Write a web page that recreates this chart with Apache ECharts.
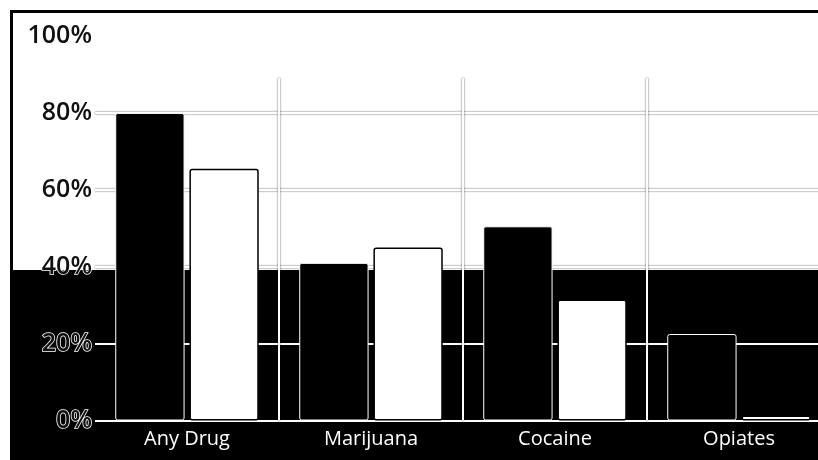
<!DOCTYPE html>
<html>
<head>
<meta charset="utf-8">
<script src="https://cdn.jsdelivr.net/npm/echarts@6/dist/echarts.min.js"></script>
<style>
  html, body { margin: 0; background: #fff; }
  #chart { width: 818px; height: 460px; }
</style>
</head>
<body>
<div id="chart"></div>
<script>
// values
var categories = ['Any Drug', 'Marijuana', 'Cocaine', 'Opiates'];
var blackValues = [80, 41, 50.5, 22.5];
var whiteValues = [65.5, 45, 31.5, 1.3];
var yTicks = [0, 20, 40, 60, 80, 100];

var chart = echarts.init(document.getElementById('chart'), null, { renderer: 'canvas' });

var gridLine = {
  color: '#fff',
  width: 2,
  shadowColor: 'rgba(0,0,0,0.75)',
  shadowBlur: 2
};

var option = {
  backgroundColor: '#fff',
  animation: false,
  graphic: {
    elements: [
      // dark lower half of the scanned page
      { type: 'rect', z: -10, silent: true,
        shape: { x: 10, y: 270, width: 808, height: 190 },
        style: { fill: '#000' } },
      // frame
      { type: 'rect', z: 100, silent: true,
        shape: { x: 11.5, y: 11.5, width: 900, height: 600 },
        style: { fill: 'none', stroke: '#000', lineWidth: 3 } }
    ]
  },
  grid: [
    { left: 95, right: -13, top: 36, bottom: 39.5, outerBoundsMode: 'none' },
    { left: 95, right: -13, top: 78, bottom: 39.5, outerBoundsMode: 'none' }
  ],
  xAxis: [{
    type: 'category',
    gridIndex: 0,
    data: categories,
    axisLine: { show: false },
    axisTick: { show: false },
    splitLine: { show: false },
    axisLabel: {
      color: '#fff',
      fontFamily: 'Open Sans',
      fontSize: 20,
      margin: 9
    }
  }, {
    type: 'category',
    gridIndex: 1,
    data: categories,
    axisLine: { show: false },
    axisTick: { show: false },
    axisLabel: { show: false },
    splitLine: { show: true, showMinLine: false, lineStyle: gridLine }
  }],
  yAxis: [{
    type: 'value',
    gridIndex: 0,
    min: yTicks[0],
    max: yTicks[yTicks.length - 1],
    interval: yTicks[1] - yTicks[0],
    axisLine: { show: false },
    axisTick: { show: false },
    axisLabel: {
      formatter: '{value}%',
      color: '#111',
      fontFamily: 'Open Sans',
      fontWeight: 600,
      fontSize: 25,
      margin: 3,
      textBorderColor: '#fff',
      textBorderWidth: 1.5
    },
    splitLine: { show: true, showMaxLine: false, lineStyle: gridLine }
  }, {
    type: 'value',
    gridIndex: 1,
    min: 0,
    max: 100,
    show: false
  }],
  series: [{
    name: 'black',
    type: 'bar',
    xAxisIndex: 0,
    yAxisIndex: 0,
    data: blackValues,
    barGap: '7%',
    barCategoryGap: '22%',
    itemStyle: { color: '#000', borderColor: '#fff', borderWidth: 1, borderRadius: 2 }
  }, {
    name: 'white',
    type: 'bar',
    xAxisIndex: 0,
    yAxisIndex: 0,
    data: whiteValues,
    itemStyle: { color: '#fff', borderColor: '#000', borderWidth: 1.5, borderRadius: 2 }
  }]
};

chart.setOption(option);
</script>
</body>
</html>
